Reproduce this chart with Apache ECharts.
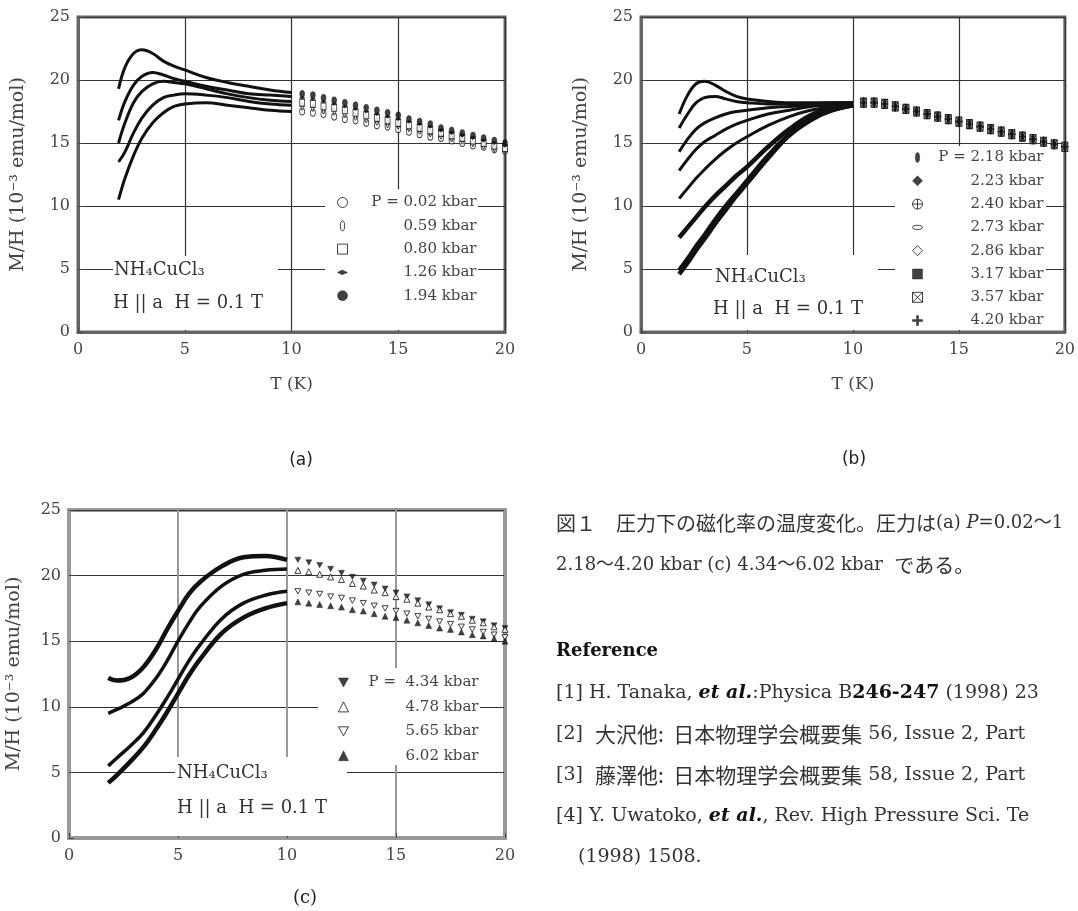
<!DOCTYPE html>
<html>
<head>
<meta charset="utf-8">
<script src="https://cdn.jsdelivr.net/npm/echarts@6/dist/echarts.min.js"></script>
<style>
html, body { margin: 0; padding: 0; background: #fff; }
#chart { width: 1078px; height: 911px; }
</style>
</head>
<body>
<div id="chart"></div>
<script>
// temperature grids (K)
const tA = [1.9, 2.2, 2.6, 3.0, 3.5, 4.0, 4.5, 5, 6, 7, 8, 9, 10];
const tB = [1.8, 2.2, 2.6, 3.0, 3.5, 4.0, 4.5, 5, 6, 7, 8, 9, 10];
const tC = [1.8, 2.2, 2.8, 3.4, 4.0, 4.5, 5, 5.5, 6, 7, 8, 9, 10];
const tTail = [10.5, 11, 11.5, 12, 12.5, 13, 13.5, 14, 14.5, 15, 15.5, 16, 16.5, 17, 17.5, 18, 18.5, 19, 19.5, 20];

// (a) M/H below 10 K
const a002 = [10.5, 12.2, 14.0, 15.4, 16.6, 17.4, 17.9, 18.1, 18.2, 18.0, 17.8, 17.6, 17.5];
const a059 = [13.5, 14.3, 15.8, 17.0, 18.0, 18.6, 18.8, 18.9, 18.8, 18.6, 18.3, 18.1, 18.0];
const a080 = [15.0, 16.6, 18.2, 19.1, 19.7, 19.9, 19.8, 19.7, 19.3, 18.9, 18.6, 18.4, 18.3];
const a126 = [16.8, 18.3, 19.6, 20.3, 20.6, 20.4, 20.1, 19.9, 19.5, 19.2, 18.9, 18.8, 18.7];
const a194 = [19.3, 21.0, 22.1, 22.4, 22.1, 21.5, 21.1, 20.8, 20.2, 19.8, 19.5, 19.2, 19.0];
// (a) above 10 K
const a002t = [17.5, 17.4, 17.3, 17.1, 16.9, 16.8, 16.6, 16.4, 16.3, 16.1, 15.9, 15.7, 15.5, 15.4, 15.2, 15.0, 14.8, 14.7, 14.5, 14.4];
const a059t = [17.9, 17.8, 17.6, 17.5, 17.3, 17.1, 16.9, 16.7, 16.5, 16.4, 16.2, 16.0, 15.8, 15.6, 15.4, 15.2, 15.0, 14.8, 14.6, 14.5];
const a080t = [18.2, 18.1, 17.9, 17.8, 17.6, 17.4, 17.2, 17.0, 16.8, 16.6, 16.4, 16.2, 16.0, 15.8, 15.6, 15.4, 15.2, 15.0, 14.8, 14.6];
const a126t = [18.6, 18.5, 18.3, 18.1, 17.9, 17.7, 17.5, 17.3, 17.1, 16.9, 16.7, 16.5, 16.3, 16.0, 15.8, 15.6, 15.4, 15.2, 15.0, 14.8];
const a194t = [18.9, 18.8, 18.6, 18.4, 18.2, 18.0, 17.8, 17.6, 17.4, 17.2, 16.9, 16.7, 16.5, 16.2, 16.0, 15.8, 15.6, 15.4, 15.2, 15.0];

// (b) M/H below 10 K
const b218 = [17.3, 18.8, 19.7, 19.9, 19.6, 19.1, 18.7, 18.5, 18.3, 18.2, 18.2, 18.2, 18.2];
const b223 = [16.2, 17.3, 18.2, 18.6, 18.7, 18.5, 18.3, 18.2, 18.1, 18.1, 18.1, 18.2, 18.2];
const b240 = [14.3, 15.3, 16.1, 16.6, 17.0, 17.3, 17.5, 17.6, 17.8, 17.9, 18.0, 18.1, 18.2];
const b273 = [12.8, 13.7, 14.5, 15.1, 15.6, 16.1, 16.5, 16.8, 17.3, 17.6, 17.9, 18.0, 18.1];
const b286 = [10.6, 11.4, 12.2, 12.9, 13.7, 14.4, 15.0, 15.5, 16.4, 17.1, 17.6, 17.9, 18.1];
const b317 = [7.5, 8.3, 9.1, 9.9, 10.8, 11.6, 12.4, 13.1, 14.7, 16.1, 17.2, 17.8, 18.1];
const b357 = [4.9, 5.8, 6.8, 7.7, 8.9, 10.0, 11.0, 12.0, 14.0, 15.7, 16.9, 17.6, 18.0];
const b420 = [4.6, 5.5, 6.5, 7.4, 8.6, 9.7, 10.8, 11.8, 13.8, 15.6, 16.8, 17.6, 18.0];
// (b) above 10 K all pressures fall on one curve
const bTail = [18.2, 18.2, 18.1, 17.9, 17.7, 17.5, 17.3, 17.1, 16.9, 16.7, 16.5, 16.3, 16.1, 15.9, 15.7, 15.5, 15.3, 15.1, 14.9, 14.7];

// (c) M/H below 10 K
const c434 = [12.2, 12.0, 12.2, 13.0, 14.4, 15.9, 17.3, 18.6, 19.5, 20.7, 21.4, 21.5, 21.2];
const c478 = [9.5, 9.8, 10.3, 11.0, 12.2, 13.5, 15.0, 16.4, 17.6, 19.2, 20.1, 20.4, 20.5];
const c565 = [5.5, 6.1, 7.0, 8.0, 9.4, 10.7, 12.1, 13.5, 14.7, 16.7, 17.9, 18.5, 18.8];
const c602 = [4.2, 4.8, 5.8, 6.9, 8.3, 9.6, 11.0, 12.4, 13.6, 15.6, 16.8, 17.5, 17.9];
// (c) above 10 K
const c434t = [21.2, 21.0, 20.8, 20.5, 20.2, 19.9, 19.6, 19.3, 19.0, 18.7, 18.4, 18.1, 17.8, 17.5, 17.2, 17.0, 16.7, 16.5, 16.2, 16.0];
const c478t = [20.4, 20.3, 20.1, 19.9, 19.7, 19.4, 19.2, 18.9, 18.7, 18.4, 18.2, 17.9, 17.6, 17.4, 17.1, 16.9, 16.6, 16.4, 16.1, 15.9];
const c565t = [18.8, 18.7, 18.6, 18.4, 18.3, 18.1, 17.9, 17.7, 17.5, 17.3, 17.1, 16.9, 16.7, 16.5, 16.3, 16.1, 15.9, 15.7, 15.5, 15.3];
const c602t = [18.0, 17.9, 17.8, 17.7, 17.6, 17.4, 17.3, 17.1, 16.9, 16.8, 16.6, 16.4, 16.2, 16.0, 15.9, 15.7, 15.5, 15.4, 15.2, 15.0];

const namesA = ['P = 0.02 kbar', '0.59 kbar', '0.80 kbar', '1.26 kbar', '1.94 kbar'];
const namesB = ['P = 2.18 kbar', '2.23 kbar', '2.40 kbar', '2.73 kbar', '2.86 kbar', '3.17 kbar', '3.57 kbar', '4.20 kbar'];
const namesC = ['P =  4.34 kbar', '4.78 kbar', '5.65 kbar', '6.02 kbar'];
const xTicks = [0, 5, 10, 15, 20];
const yTicks = [0, 5, 10, 15, 20, 25];

const SYM = {
    ellV: 'path://M3,0C5,0 6,3 6,7C6,11 5,14 3,14C1,14 0,11 0,7C0,3 1,0 3,0Z',
    arrow: 'path://M0,3L6,0L13,3L6,6Z',
    circlePlus: 'path://M0,10A10,10 0 1,1 20,10A10,10 0 1,1 0,10ZM10,0L10,20M0,10L20,10',
    ellH: 'path://M0,4C0,0 14,0 14,4C14,8 0,8 0,4Z',
    hatch: 'path://M0,0L10,0L10,10L0,10ZM0,0L10,10M10,0L0,10',
    plus: 'path://M4,0L6,0L6,4L10,4L10,6L6,6L6,10L4,10L4,6L0,6L0,4L4,4Z',
    triDown: 'path://M0,0L10,0L5,9Z'
};

const serif = "'DejaVu Serif', 'Liberation Serif', serif";
const INK = '#111';

const zip = (ts, vs) => ts.map((t, i) => [t, vs[i]]);
const styleOf = (open) => open
    ? { color: '#fff', borderColor: INK, borderWidth: 1 }
    : { color: INK, borderColor: INK, borderWidth: 0.5 };

function curve(key, g, ts, vs, w) {
    return {
        name: key, type: 'line', xAxisIndex: g, yAxisIndex: g,
        data: zip(ts, vs), smooth: 0.4, symbol: 'none',
        lineStyle: { color: INK, width: w }, z: 3, silent: true
    };
}
function tail(name, g, vs, sym, size, open, z) {
    return {
        name: name, type: 'scatter', xAxisIndex: g, yAxisIndex: g,
        data: zip(tTail, vs), symbol: sym, symbolSize: size, symbolKeepAspect: true,
        itemStyle: styleOf(open), z: z || 3, silent: true
    };
}

const symA = [['circle', true], [SYM.ellV, true], ['rect', true], [SYM.arrow, false], ['circle', false]];
const symB = [[SYM.ellV, false], ['diamond', false], [SYM.circlePlus, true], [SYM.ellH, true],
              ['diamond', true], ['rect', false], [SYM.hatch, true], [SYM.plus, false]];
const symC = [[SYM.triDown, false], ['triangle', true], [SYM.triDown, true], ['triangle', false]];

const lowA = [a002, a059, a080, a126, a194];
const tailA = [a002t, a059t, a080t, a126t, a194t];
const lowB = [b218, b223, b240, b273, b286, b317, b357, b420];
const lowC = [c434, c478, c565, c602];
const tailC = [c434t, c478t, c565t, c602t];

const series = [];
namesA.forEach((n, i) => {
    series.push(curve('a' + i, 0, tA, lowA[i], 3));
    series.push(tail(n, 0, tailA[i], symA[i][0], [5, 7], symA[i][1]));
});
namesB.forEach((n, i) => {
    series.push(curve('b' + i, 1, tB, lowB[i], i >= 5 ? 4.5 : 3));
    // the filled ellipse ends up on top, as in the print
    series.push(tail(n, 1, bTail, symB[i][0], [6, 9], symB[i][1], i === 0 ? 4 : 3));
});
namesC.forEach((n, i) => {
    series.push(curve('c' + i, 2, tC, lowC[i], i === 0 || i === 3 ? 4.5 : 3.5));
    series.push(tail(n, 2, tailC[i], symC[i][0], 6, symC[i][1]));
});

function legendFor(names, syms, left, top, w, gap) {
    return {
        orient: 'vertical', left: left, top: top, itemWidth: 10, itemHeight: 10, itemGap: gap,
        selectedMode: false, padding: 0,
        data: names.map((n, i) => ({ name: n, icon: syms[i][0], itemStyle: styleOf(syms[i][1]) })),
        formatter: (name) => '{r|' + name + '}',
        textStyle: { rich: { r: { width: w, align: 'right', fontFamily: serif, fontSize: 15, lineHeight: 15, color: '#444' } } }
    };
}

function xAxisFor(g, named, lineCol, splitCol, splitW) {
    return {
        gridIndex: g, type: 'value', min: xTicks[0], max: xTicks[xTicks.length - 1], interval: 5,
        axisLine: { show: true, onZero: false, lineStyle: { color: lineCol, width: 3 } },
        axisTick: { inside: true, length: 5, lineStyle: { color: '#444' } },
        axisLabel: { fontFamily: serif, fontSize: 16, color: '#444', margin: 10 },
        splitLine: { show: true, lineStyle: { color: splitCol, width: splitW } },
        name: named ? 'T (K)' : '', nameLocation: 'middle', nameGap: 44,
        nameTextStyle: { fontFamily: serif, fontSize: 17, color: '#444' }
    };
}
function yAxisFor(g, lineCol, gap) {
    return {
        gridIndex: g, type: 'value', min: yTicks[0], max: yTicks[yTicks.length - 1], interval: 5,
        axisLine: { show: true, onZero: false, lineStyle: { color: lineCol, width: 3 } },
        axisTick: { inside: true, length: 5, lineStyle: { color: '#444' } },
        axisLabel: { fontFamily: serif, fontSize: 16, color: '#444', margin: 8 },
        splitLine: { show: true, lineStyle: { color: '#333', width: 1.2 } },
        name: 'M/H (10⁻³ emu/mol)', nameLocation: 'middle', nameGap: gap,
        nameTextStyle: { fontFamily: serif, fontSize: 19, color: '#444' }
    };
}

// white boxes that break the grid lines behind the texts and legends
const boxes = [
    [325, 189, 153, 141], [113, 256, 165, 74],
    [895, 146, 151, 184], [712, 255, 166, 75],
    [318, 668, 162, 97], [175, 757, 172, 79]
];
const graphic = boxes.map(b => ({
    type: 'rect', z: 1, silent: true,
    shape: { x: b[0], y: b[1], width: b[2], height: b[3] },
    style: { fill: '#fff' }
}));

function txt(x, y, text, font, size, rich, color, align) {
    return {
        type: 'text', x: x, y: y, z: 5, silent: true,
        style: { text: text, fontFamily: font, fontSize: size, fill: color || '#333',
                 verticalAlign: 'middle', align: align || 'left', rich: rich || {} }
    };
}
const sampleA = 'NH₄CuCl₃', sampleB = 'H || a  H = 0.1 T';
graphic.push(txt(114, 270, sampleA, serif, 18));
graphic.push(txt(113, 303, sampleB, serif, 18));
graphic.push(txt(715, 277, sampleA, serif, 18));
graphic.push(txt(713, 309, sampleB, serif, 18));
graphic.push(txt(177, 773, sampleA, serif, 18));
graphic.push(txt(177, 808, sampleB, serif, 18));

const sans = "'DejaVu Sans', sans-serif";
graphic.push(txt(301, 461, '(a)', sans, 17, null, '#222', 'center'));
graphic.push(txt(854, 460, '(b)', sans, 17, null, '#222', 'center'));
graphic.push(txt(305, 898, '(c)', serif, 18, null, '#222', 'center'));

const body = "'DejaVu Serif', 'Noto Sans CJK JP', serif";
const rich = {
    j: { fontFamily: "'Noto Sans CJK JP'", fontSize: 20, fill: '#333' },
    k: { fontFamily: "'Noto Sans CJK JP'", fontSize: 21, fill: '#333' },
    i: { fontFamily: "'DejaVu Serif'", fontStyle: 'italic', fontSize: 18, fill: '#333' },
    b: { fontFamily: "'DejaVu Serif'", fontWeight: 'bold', fontSize: 19, fill: '#111' },
    bi: { fontFamily: "'DejaVu Serif'", fontWeight: 'bold', fontStyle: 'italic', fontSize: 19, fill: '#111' }
};
const textX = 556;
graphic.push(txt(textX, 523, '{j|図１　圧力下の磁化率の温度変化。圧力は}(a) {i|P}=0.02～1', body, 18, rich));
graphic.push(txt(textX, 565, '2.18～4.20 kbar (c) 4.34～6.02 kbar  {j|である。}', body, 18, rich));
graphic.push(txt(textX, 651, 'Reference', body, 18, rich, '#111'));
graphic[graphic.length - 1].style.fontWeight = 'bold';
graphic.push(txt(textX, 693, '[1] H. Tanaka, {bi|et al.}:Physica B{b|246-247} (1998) 23', body, 19, rich));
graphic.push(txt(textX, 734, '[2]  {k|大沢他:  日本物理学会概要集} 56, Issue 2, Part', body, 19, rich));
graphic.push(txt(textX, 775, '[3]  {k|藤澤他:  日本物理学会概要集} 58, Issue 2, Part', body, 19, rich));
graphic.push(txt(textX, 816, '[4] Y. Uwatoko, {bi|et al.}, Rev. High Pressure Sci. Te', body, 19, rich));
graphic.push(txt(textX + 22, 857, '(1998) 1508.', body, 19, rich));

const chart = echarts.init(document.getElementById('chart'));
chart.setOption({
    animation: false,
    backgroundColor: '#fff',
    grid: [
        { left: 78, top: 17, width: 427, height: 315, show: true, borderColor: '#666', borderWidth: 3 },
        { left: 641, top: 17, width: 427, height: 315, show: true, borderColor: '#666', borderWidth: 3 },
        { left: 69, top: 510, width: 436, height: 328, show: true, borderColor: '#999', borderWidth: 4 }
    ],
    xAxis: [
        xAxisFor(0, true, '#666', '#333', 1.2),
        xAxisFor(1, true, '#666', '#333', 1.2),
        xAxisFor(2, false, '#999', '#999', 2)
    ],
    yAxis: [yAxisFor(0, '#666', 50), yAxisFor(1, '#666', 50), yAxisFor(2, '#999', 45)],
    legend: [
        legendFor(namesA, symA, 337, 195, 124, 8.3),
        legendFor(namesB, symB, 912, 150, 116, 8.3),
        legendFor(namesC, symC, 338, 675, 125, 9.4)
    ],
    graphic: graphic,
    series: series
});
</script>
</body>
</html>
